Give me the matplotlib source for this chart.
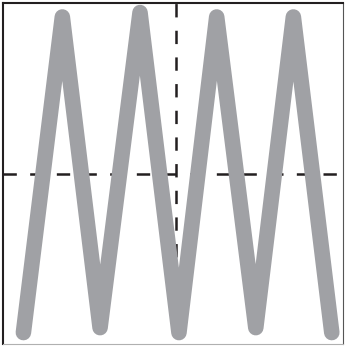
import matplotlib
matplotlib.use("Agg")
import matplotlib.pyplot as plt

# zigzag vertices (arbitrary units, centre lines at 0)
x_vals = [-0.896, -0.667, -0.445, -0.210, 0.019, 0.241, 0.471, 0.692, 0.918]
y_vals = [-0.928, 0.923, -0.899, 0.949, -0.928, 0.923, -0.899, 0.923, -0.928]

x_range = (-1.016, 0.984)
y_range = (-0.995, 1.005)

plt.rcParams["lines.scale_dashes"] = False

fig = plt.figure(figsize=(3.47, 3.46), dpi=100)
ax = fig.add_axes([3 / 347, 2 / 346, 340 / 347, 341 / 346])

dash_color = "#231f20"
ax.axhline(0, color=dash_color, linewidth=1.8, linestyle=(0, (9.6, 9.6)), zorder=1)
ax.axvline(0, color=dash_color, linewidth=1.8, linestyle=(14.1, (9.6, 9.6)), zorder=1)

ax.plot(x_vals, y_vals, color="#a0a1a5", linewidth=11.2,
        solid_capstyle="round", solid_joinstyle="round", zorder=2)

ax.set_xlim(*x_range)
ax.set_ylim(*y_range)
ax.set_xticks([])
ax.set_yticks([])

ax.spines["left"].set(color=dash_color, linewidth=1.5)
ax.spines["top"].set(color=dash_color, linewidth=1.5)
ax.spines["right"].set(color="#555555", linewidth=0.8)
ax.spines["bottom"].set(color="#b0b0b0", linewidth=0.8)

fig.savefig("out.png", dpi=100)
